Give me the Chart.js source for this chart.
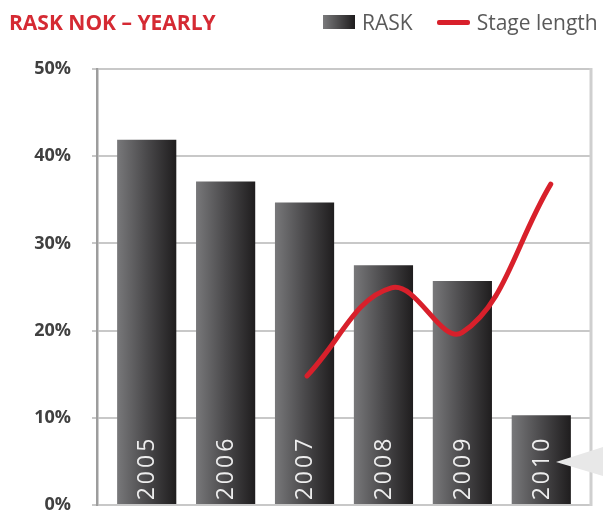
<!DOCTYPE html>
<html>
<head>
<meta charset="utf-8">
<script src="https://cdn.jsdelivr.net/npm/chart.js@4/dist/chart.umd.min.js"></script>
<style>
  html, body { margin: 0; padding: 0; background: #fff; }
  #wrap { position: relative; width: 603px; height: 515px; overflow: hidden; }
  #title { position: absolute; left: 9px; top: 8px; font: bold 21px "Open Sans", sans-serif; color: #d52a33; white-space: nowrap; line-height: 28px; }
  #legend { position: absolute; left: 323px; top: 8px; height: 28px; display: flex; align-items: center; font: 21px "Open Sans", sans-serif; color: #5a5a5a; white-space: nowrap; }
  .box { width: 32px; height: 14px; background: linear-gradient(to right, #7a7a7c, #1e1c1d); margin-right: 7px; }
  .ln { width: 33px; height: 5px; background: #d8202b; border-radius: 2px; margin-left: 24px; margin-right: 7px; }
</style>
</head>
<body>
<div id="wrap">
  <canvas id="c" width="603" height="515"></canvas>
  <div id="title">RASK NOK – YEARLY</div>
  <div id="legend"><span class="box"></span><span>RASK</span><span class="ln"></span><span>Stage length</span></div>
</div>
<script>
const categories = ['2005', '2006', '2007', '2008', '2009', '2010'];
const raskYears = [2005, 2006, 2007, 2008, 2009, 2010];
const raskValues = [41.9, 37.1, 34.7, 27.5, 25.7, 10.3];
const stageYears = [2007.03, 2008.1, 2009.0, 2010.12];
const stageValues = [14.8, 24.9, 19.8, 36.8];
const yTickValues = [0, 10, 20, 30, 40, 50];
const yTickLabels = ['0%', '10%', '20%', '30%', '40%', '50%'];

const barGradient = {
  id: 'barGradient',
  beforeDatasetsDraw(chart) {
    const ctx = chart.ctx;
    chart.getDatasetMeta(0).data.forEach(el => {
      const g = ctx.createLinearGradient(el.x - el.width / 2, 0, el.x + el.width / 2, 0);
      g.addColorStop(0, '#78787a');
      g.addColorStop(0.5, '#4a494b');
      g.addColorStop(1, '#1f1d1e');
      el.options.backgroundColor = g;
    });
  }
};

const frameAndLabels = {
  id: 'frameAndLabels',
  beforeDatasetsDraw(chart) {
    const { ctx, chartArea } = chart;
    ctx.save();
    ctx.strokeStyle = '#cfcfcf';
    ctx.lineWidth = 3;
    ctx.beginPath();
    ctx.moveTo(chartArea.right, chartArea.top - 1);
    ctx.lineTo(chartArea.right, chartArea.bottom + 1);
    ctx.stroke();
    ctx.restore();
  },
  afterDatasetsDraw(chart) {
    const ctx = chart.ctx;
    const meta = chart.getDatasetMeta(0);
    ctx.save();
    ctx.fillStyle = 'rgba(255,255,255,0.9)';
    ctx.font = '23px "Open Sans", sans-serif';
    ctx.letterSpacing = '3px';
    meta.data.forEach((el, i) => {
      ctx.save();
      ctx.translate(el.x + 1, el.base - 36);
      ctx.rotate(-Math.PI / 2);
      ctx.textAlign = 'center';
      ctx.textBaseline = 'middle';
      ctx.fillText(categories[i], 0, 0);
      ctx.restore();
    });
    ctx.restore();
  },
  afterDraw(chart) {
    const ctx = chart.ctx;
    ctx.save();
    ctx.fillStyle = '#e8e8e8';
    ctx.beginPath();
    ctx.moveTo(556, 462);
    ctx.lineTo(603, 447);
    ctx.lineTo(603, 476);
    ctx.closePath();
    ctx.fill();
    ctx.restore();
  }
};

new Chart(document.getElementById('c'), {
  data: {
    datasets: [
      {
        type: 'bar',
        label: 'RASK',
        data: raskYears.map((x, i) => ({ x: x, y: raskValues[i] })),
        backgroundColor: () => '#444',
        borderWidth: 0,
        barPercentage: 0.75,
        categoryPercentage: 1,
        order: 2
      },
      {
        type: 'line',
        label: 'Stage length',
        data: stageYears.map((x, i) => ({ x: x, y: stageValues[i] })),
        borderColor: '#d8202b',
        borderWidth: 5,
        borderCapStyle: 'round',
        borderJoinStyle: 'round',
        pointRadius: 0,
        tension: 0.4,
        fill: false,
        order: 1
      }
    ]
  },
  options: {
    responsive: false,
    animation: false,
    layout: { padding: { top: 69, bottom: 10, right: 12, left: 0 } },
    plugins: { legend: { display: false }, title: { display: false }, tooltip: { enabled: false } },
    scales: {
      x: {
        type: 'linear',
        display: false,
        offset: false,
        grid: { offset: false },
        min: 2004.37,
        max: 2010.63
      },
      y: {
        min: 0,
        max: 50,
        afterFit(s) { s.width = 97; s.paddingTop = 0; s.paddingBottom = 0; },
        afterBuildTicks(s) { s.ticks = yTickValues.map(v => ({ value: v })); },
        ticks: {
          padding: 21,
          color: '#404040',
          font: { family: '"Open Sans", sans-serif', size: 18, weight: 'bold' },
          callback: (v) => yTickLabels[yTickValues.indexOf(v)]
        },
        grid: { color: '#c8c8c8', lineWidth: 2, tickLength: 5 },
        border: { color: '#9d9d9d', width: 2.5 }
      }
    }
  },
  plugins: [barGradient, frameAndLabels]
});
</script>
</body>
</html>
